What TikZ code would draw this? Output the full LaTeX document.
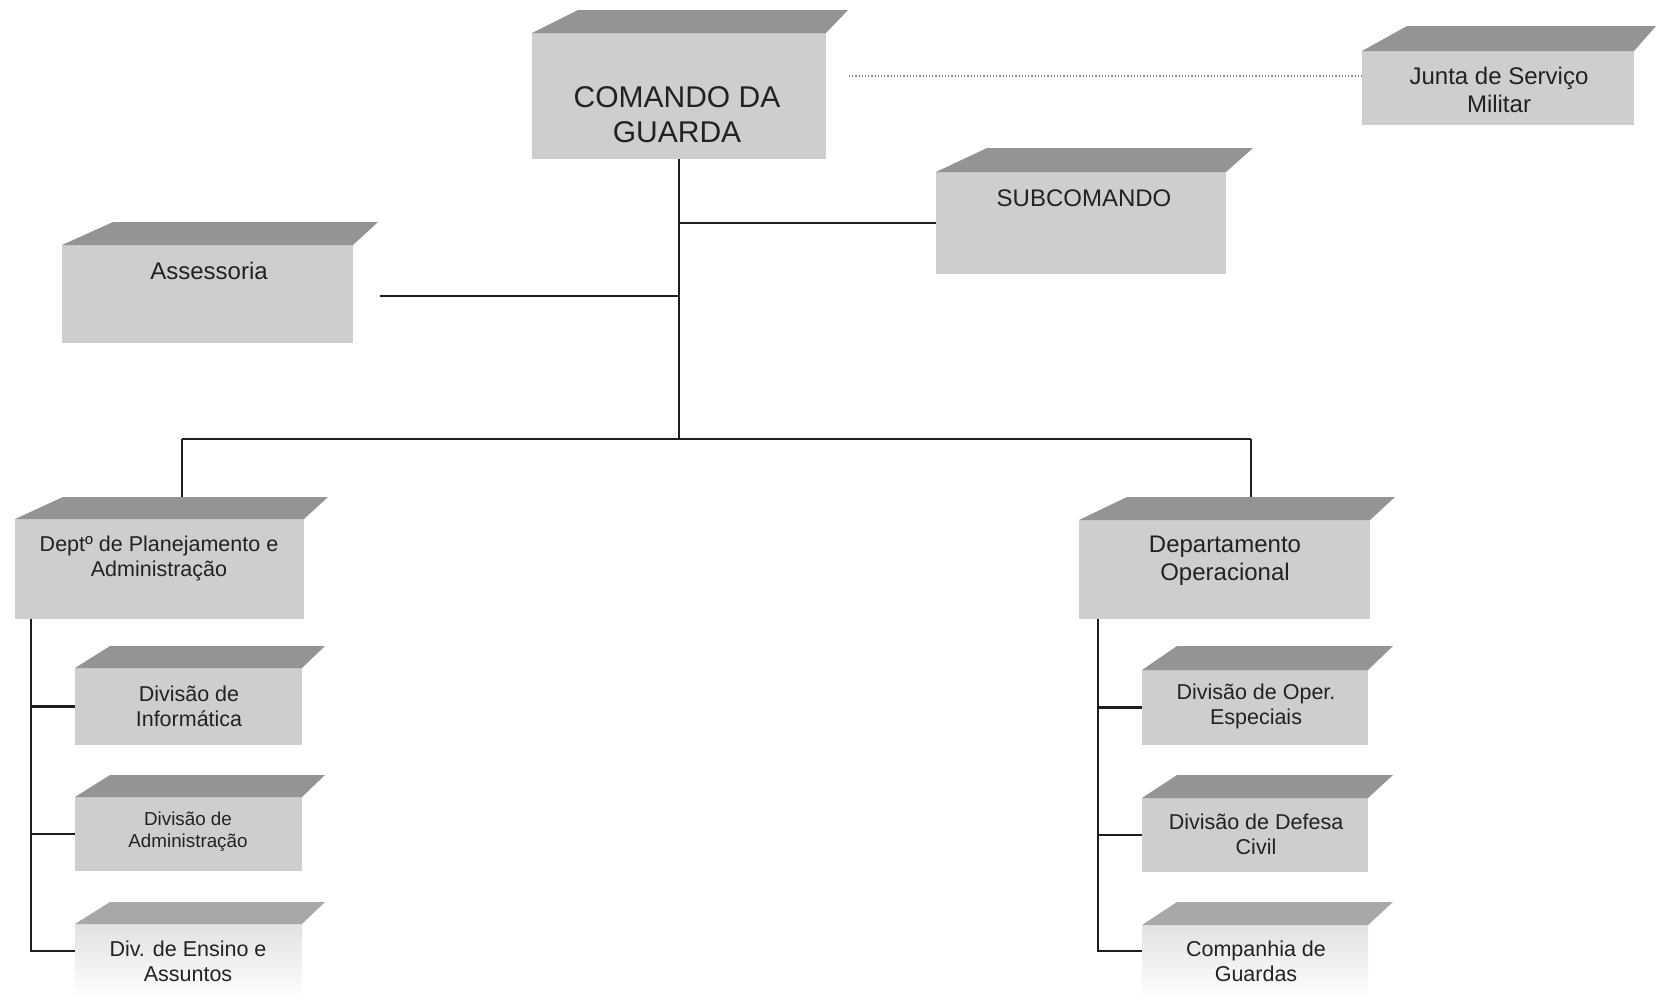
\documentclass[tikz,border=0pt]{standalone}
\usepackage{fontspec}
\setmainfont{Liberation Sans}
\usetikzlibrary{fit,calc}

\definecolor{facegrey}{RGB}{206,206,206}
\definecolor{topgrey}{RGB}{148,148,148}
\definecolor{palegrey}{RGB}{226,226,226}
\definecolor{paletop}{RGB}{168,168,168}
\definecolor{inkgrey}{RGB}{34,34,34}
\definecolor{wiregrey}{RGB}{30,30,30}

\tikzset{
  facebox/.style={inner sep=0pt, fill=facegrey},
  fadebox/.style={inner sep=0pt, top color=palegrey, bottom color=white},
  topface/.style={fill=topgrey},
  paletopface/.style={fill=paletop},
  txt/.style={align=center, text=inkgrey, inner sep=0pt},
  bigtxt/.style={txt, font=\fontsize{30}{35}\selectfont},
  midtxt/.style={txt, font=\fontsize{24}{28}\selectfont},
  smltxt/.style={txt, font=\fontsize{21.5}{25}\selectfont},
  tinytxt/.style={txt, font=\fontsize{18.8}{22}\selectfont},
  wire/.style={draw=wiregrey, line width=2.2pt},
  dotwire/.style={draw=gray, line width=1.2pt, dotted},
}

% #1 name, #2 left, #3 front top, #4 right, #5 bottom,
% #6 top edge y, #7 top edge left x, #8 top edge right x, #9 face style
\newcommand\slab[9]{%
  \coordinate (#1nw) at (#2,#3);
  \coordinate (#1se) at (#4,#5);
  \node[#9, fit=(#1nw)(#1se)] (#1) {};
  \coordinate (#1top) at ({(#7+#8)/2},#6);
  \slabtop{#1}{#2}{#3}{#4}{#6}{#7}{#8}}
\newcommand\slabtop[7]{\fill[\slabtopstyle] (#2,#3) -- (#6,#5) -- (#7,#5) -- (#4,#3) -- cycle;}
\newcommand\slabtopstyle{topface}

\begin{document}
\begin{tikzpicture}[x=1pt,y=-1pt]
\useasboundingbox (0,0) rectangle (1656,999);
\fill[white] (0,0) rectangle (1656,999);

% boxes
\slab{cmd}{532}{33}{826}{159}{10}{578}{848}{facebox}
\slab{junta}{1362}{51}{1634}{125}{26}{1407}{1656}{facebox}
\slab{sub}{936}{172}{1226}{274}{148}{987}{1253}{facebox}
\slab{ass}{62}{245}{353}{343}{222}{113}{378}{facebox}
\slab{dpa}{15}{519}{304}{619}{497}{63}{328}{facebox}
\slab{dop}{1079}{520}{1370}{619}{497}{1127}{1395}{facebox}
\slab{dinf}{75}{668}{302}{745}{646}{110}{325}{facebox}
\slab{dadm}{75}{797}{302}{871}{775}{110}{325}{facebox}
\slab{dope}{1142}{670}{1368}{745}{646}{1177}{1393}{facebox}
\slab{ddef}{1142}{798}{1368}{872}{775}{1177}{1393}{facebox}
\renewcommand\slabtopstyle{paletopface}
\slab{dens}{75}{924}{302}{999}{902}{110}{325}{fadebox}
\slab{comp}{1142}{925}{1368}{999}{902}{1177}{1393}{fadebox}

% labels
\node[bigtxt] (cmdT) at (677,114.5) {COMANDO DA\\GUARDA};
\node[midtxt] (juntaT) at (1499,90) {Junta de Serviço\\Militar};
\node[midtxt] (subT) at (1084,198) {SUBCOMANDO};
\node[midtxt] (assT) at (209,271) {Assessoria};
\node[smltxt] (dpaT) at (159,558) {Deptº de Planejamento e\\Administração};
\node[midtxt] (dopT) at (1225,561) {Departamento\\Operacional};
\node[smltxt] (dinfT) at (189,706) {Divisão de\\Informática};
\node[tinytxt] (dadmT) at (188,832) {Divisão de\\Administração};
\node[smltxt] (densT) at (188,961) {Div. de Ensino e\\Assuntos};
\node[smltxt] (dopeT) at (1256,706) {Divisão de Oper.\\Especiais};
\node[smltxt] (ddefT) at (1256,834) {Divisão de Defesa\\Civil};
\node[smltxt] (compT) at (1256,961) {Companhia de\\Guardas};

% connectors
\coordinate (spine) at (679,439);
\coordinate (busL) at (182,439);
\coordinate (busR) at (1251,439);
\coordinate (dotL) at (849,76);
\coordinate (assR) at (380,296);
\coordinate (trL) at (31,951);
\coordinate (trR) at (1098,951);

\draw[dotwire] (dotL) -- (dotL -| junta.west);
\draw[wire] (cmd.south -| spine) -- (spine);
\draw[wire] (spine |- sub.west) -- (sub.west);
\draw[wire] (assR) -- (assR -| spine);
\draw[wire] (busL) -- (busR);
\draw[wire] (busL) -- (busL |- dpatop);
\draw[wire] (busR) -- (busR |- doptop);

\draw[wire] (trL |- dpa.south) -- (trL) -- (trL -| dens.west);
\draw[wire] (trL |- dinf.west) -- (dinf.west);
\draw[wire] (trL |- dadm.west) -- (dadm.west);

\draw[wire] (trR |- dop.south) -- (trR) -- (trR -| comp.west);
\draw[wire] (trR |- dope.west) -- (dope.west);
\draw[wire] (trR |- ddef.west) -- (ddef.west);
\end{tikzpicture}
\end{document}
